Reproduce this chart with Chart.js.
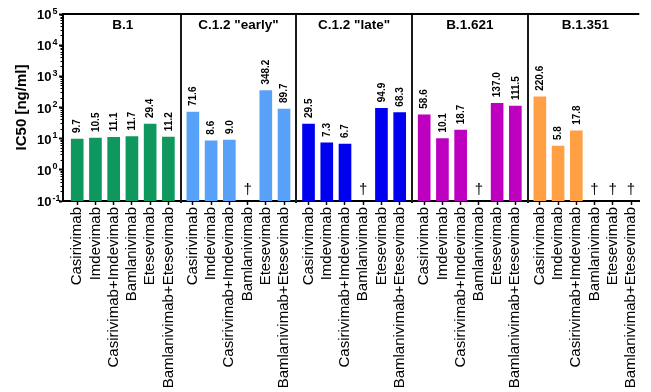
<!DOCTYPE html>
<html>
<head>
<meta charset="utf-8">
<script src="https://cdn.jsdelivr.net/npm/chart.js@4.4.1/dist/chart.umd.min.js"></script>
<style>
  html, body { margin: 0; padding: 0; background: #ffffff; }
  #wrap { width: 651px; height: 392px; position: relative; }
</style>
</head>
<body>
<div id="wrap"><canvas id="c" width="651" height="392"></canvas></div>
<script>
// ---------------- data ----------------
const variants = ['B.1', 'C.1.2 "early"', 'C.1.2 "late"', 'B.1.621', 'B.1.351'];
const antibodies = ['Casirivimab', 'Imdevimab', 'Casirivimab+Imdevimab', 'Bamlanivimab', 'Etesevimab', 'Bamlanivimab+Etesevimab'];
const valuesB1       = [9.7, 10.5, 11.1, 11.7, 29.4, 11.2];
const valuesC12early = [71.6, 8.6, 9.0, null, 348.2, 89.7];
const valuesC12late  = [29.5, 7.3, 6.7, null, 94.9, 68.3];
const valuesB1621    = [58.6, 10.1, 18.7, null, 137.0, 111.5];
const valuesB1351    = [220.6, 5.8, 17.8, null, null, null];
const yTickExponents = [-1, 0, 1, 2, 3, 4, 5];
const missingMark = '\u2020';

// ---------------- styling / layout ----------------
const variantColors = ['#0E985E', '#57A2F8', '#0000F0', '#BD00BF', '#FFA044'];
const GROUP_GAP = 0.344; // extra space between groups, in category units
const allSeries = [valuesB1, valuesC12early, valuesC12late, valuesB1621, valuesB1351];
const nPer = antibodies.length;
const groupStride = nPer + GROUP_GAP;

const points = [], colors = [], tickPos = [], tickText = [], missing = [];
allSeries.forEach((vals, g) => {
  vals.forEach((v, k) => {
    const x = g * groupStride + k;
    tickPos.push(x);
    tickText.push(antibodies[k]);
    points.push({ x: x, y: v });
    colors.push(variantColors[g]);
    if (v === null) missing.push(x);
  });
});

const FONT = '"Liberation Sans", Arial, Helvetica, sans-serif';

const overlay = {
  id: 'overlay',
  afterDatasetsDraw(chart) {
    const ctx = chart.ctx;
    const xs = chart.scales.x, ys = chart.scales.y;
    const area = chart.chartArea;
    ctx.save();
    // value labels
    const meta = chart.getDatasetMeta(0);
    meta.data.forEach((el, i) => {
      const v = points[i].y;
      if (v === null || v === undefined) return;
      ctx.save();
      ctx.translate(el.x, el.y - 6);
      ctx.rotate(-Math.PI / 2);
      ctx.font = 'bold 10px ' + FONT;
      ctx.fillStyle = '#000';
      ctx.textAlign = 'left';
      ctx.textBaseline = 'middle';
      ctx.fillText(v.toFixed(1), 0, 0.5);
      ctx.restore();
    });
    // daggers for missing values
    ctx.font = '15px ' + FONT;
    ctx.fillStyle = '#000';
    ctx.textAlign = 'center';
    ctx.textBaseline = 'alphabetic';
    missing.forEach(x => {
      ctx.fillText(missingMark, xs.getPixelForValue(x), area.bottom - 7);
    });
    // separators
    ctx.strokeStyle = '#1a1a1a';
    ctx.lineWidth = 2;
    for (let g = 0; g < variants.length - 1; g++) {
      const px = Math.round(xs.getPixelForValue(g * groupStride + nPer - 1 + (1 + GROUP_GAP) / 2));
      ctx.beginPath();
      ctx.moveTo(px, area.top);
      ctx.lineTo(px, area.bottom + 2);
      ctx.stroke();
    }
    // top border
    ctx.strokeStyle = '#000';
    ctx.beginPath();
    ctx.moveTo(area.left - 1, area.top);
    ctx.lineTo(area.right, area.top);
    ctx.stroke();
    // group titles
    ctx.font = 'bold 13.5px ' + FONT;
    ctx.textAlign = 'center';
    ctx.textBaseline = 'middle';
    variants.forEach((name, g) => {
      const px = xs.getPixelForValue(g * groupStride + (nPer - 1) / 2);
      ctx.fillText(name, px, area.top + 11);
    });
    // y tick labels 10^n with superscript exponent
    yTickExponents.forEach(e => {
      const py = ys.getPixelForValue(Math.pow(10, e));
      const xr = area.left - 11.5;
      ctx.font = 'bold 13px ' + FONT;
      ctx.textAlign = 'right';
      ctx.textBaseline = 'middle';
      ctx.fillText('10', xr, py + 1.5);
      ctx.font = 'bold 9px ' + FONT;
      ctx.textAlign = 'left';
      ctx.textBaseline = 'alphabetic';
      ctx.fillText(String(e), xr + 1, py - 0.5);
    });
    ctx.restore();
  }
};

new Chart(document.getElementById('c'), {
  type: 'bar',
  data: {
    datasets: [{
      data: points,
      backgroundColor: colors,
      borderWidth: 0,
      barThickness: 12
    }]
  },
  options: {
    responsive: false,
    animation: false,
    devicePixelRatio: 1,
    layout: { padding: { top: 14, right: 0, left: 0, bottom: 0 } },
    plugins: { legend: { display: false }, tooltip: { enabled: false } },
    scales: {
      x: {
        type: 'linear',
        offset: false,
        min: -0.78,
        max: 30.83,
        grid: { offset: false, drawOnChartArea: false, drawTicks: true, tickLength: 4, tickWidth: 1.5, tickColor: '#000' },
        border: { display: true, color: '#000', width: 2 },
        afterBuildTicks(scale) { scale.ticks = tickPos.map(v => ({ value: v })); },
        afterFit(scale) { scale.height = 191; },
        ticks: {
          autoSkip: false,
          maxRotation: 90,
          minRotation: 90,
          padding: 2,
          color: '#000',
          font: { family: FONT, size: 15 },
          callback: (value, index) => tickText[index]
        }
      },
      y: {
        type: 'logarithmic',
        min: 0.1,
        max: 100000,
        afterBuildTicks(scale) {
          const t = [];
          for (let e = -1; e < 5; e++) {
            for (let m = 1; m <= 9; m++) t.push({ value: m * Math.pow(10, e) });
          }
          t.push({ value: 100000 });
          scale.ticks = t;
        },
        afterFit(scale) { scale.width = 63; },
        grid: {
          drawOnChartArea: false,
          tickLength: 4,
          tickColor: '#000',
          tickWidth: ctx => {
            const v = ctx.tick ? ctx.tick.value : 0;
            return Math.abs(Math.log10(v) - Math.round(Math.log10(v))) < 1e-6 ? 2 : 1;
          },
          tickBorderDash: ctx => {
            const v = ctx.tick ? ctx.tick.value : 0;
            return Math.abs(Math.log10(v) - Math.round(Math.log10(v))) < 1e-6 ? [] : [0, 1.5, 3, 100];
          }
        },
        border: { display: true, color: '#000', width: 2 },
        ticks: {
          autoSkip: false,
          padding: 2,
          color: '#000',
          font: { family: FONT, size: 13, weight: 'bold' },
          callback: () => ''
        },
        title: {
          display: true,
          text: 'IC50 [ng/ml]',
          color: '#000',
          font: { family: FONT, size: 15, weight: 'bold' },
          padding: { top: 13, bottom: 0 }
        }
      }
    }
  },
  plugins: [overlay]
});
</script>
</body>
</html>
